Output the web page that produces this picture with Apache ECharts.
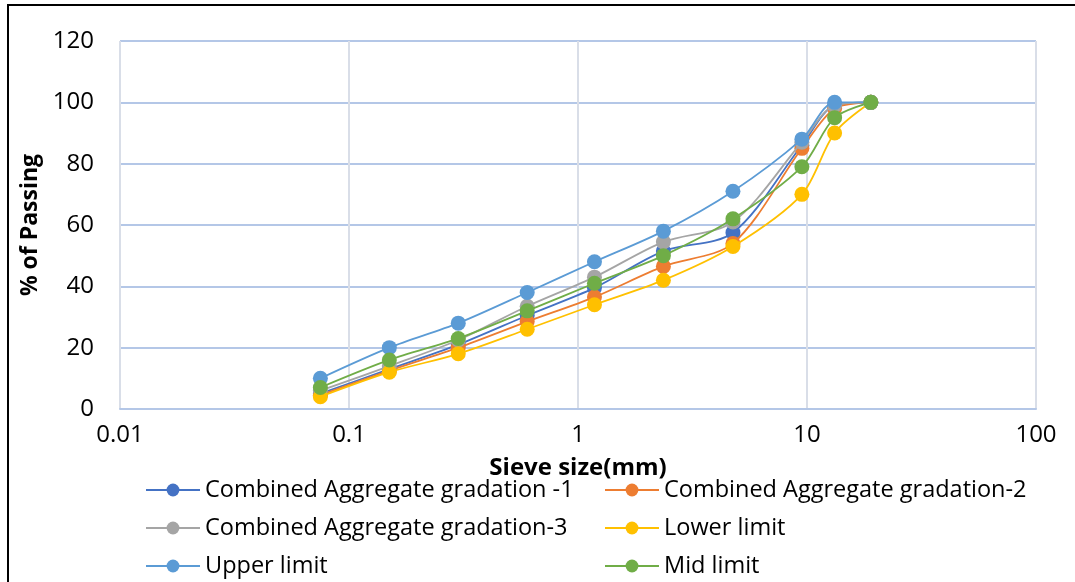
<!DOCTYPE html>
<html>
<head>
<meta charset="utf-8">
<script src="https://cdn.jsdelivr.net/npm/echarts@6/dist/echarts.min.js"></script>
<style>
  html, body { margin: 0; padding: 0; background: #fff; }
  #chart { width: 1075px; height: 582px; }
  #frame { position: absolute; left: 7px; top: 4px; width: 1100px; height: 700px; border: 2px solid #000; pointer-events: none; }
</style>
</head>
<body>
<div id="chart"></div>
<div id="frame"></div>
<script>
const sieveSizes = [0.075, 0.15, 0.3, 0.6, 1.18, 2.36, 4.75, 9.5, 13.2, 19];
const gradation1 = [5, 13, 21, 30.5, 39.5, 51.5, 57.5, 86, 99, 100];
const gradation2 = [4.5, 12.5, 20, 28.5, 36.5, 46.5, 54, 85, 98, 100];
const gradation3 = [6, 14, 22.5, 33.5, 43, 54.5, 61, 87, 99, 100];
const lowerLimit = [4, 12, 18, 26, 34, 42, 53, 70, 90, 100];
const upperLimit = [10, 20, 28, 38, 48, 58, 71, 88, 100, 100];
const midLimit = [7, 16, 23, 32, 41, 50, 62, 79, 95, 100];
const seriesNames = ['Combined Aggregate gradation -1', 'Combined Aggregate gradation-2', 'Combined Aggregate gradation-3', 'Lower limit', 'Upper limit', 'Mid limit'];
const seriesValues = [gradation1, gradation2, gradation3, lowerLimit, upperLimit, midLimit];
const seriesColors = ['#4472C4', '#ED7D31', '#A5A5A5', '#FFC000', '#5B9BD5', '#70AD47'];
const yTicks = [0, 20, 40, 60, 80, 100, 120];

const FONT = "'Open Sans', 'Liberation Sans', sans-serif";
const chart = echarts.init(document.getElementById('chart'), null, { renderer: 'canvas' });

const series = seriesNames.map((name, i) => ({
  name: name,
  type: 'line',
  smooth: 0.3,
  symbol: 'circle',
  symbolSize: 15,
  lineStyle: { width: 1.8, color: seriesColors[i] },
  itemStyle: { color: seriesColors[i] },
  z: 2 + i,
  data: sieveSizes.map((s, j) => [s, seriesValues[i][j]])
}));

const legendText = { fontSize: 23.5, color: '#000', fontFamily: FONT };
chart.setOption({
  animation: false,
  backgroundColor: '#fff',
  grid: { left: 120, right: 39, top: 41, bottom: 173 },
  xAxis: {
    type: 'log', logBase: 10, min: 0.01, max: 100,
    name: 'Sieve size(mm)', nameLocation: 'middle', nameGap: 47,
    nameTextStyle: { fontSize: 24, fontWeight: 'bold', color: '#000', fontFamily: FONT },
    axisLine: { show: true, lineStyle: { color: '#B4C7E7', width: 2 } },
    axisTick: { show: false },
    axisLabel: { fontSize: 24, color: '#000', fontFamily: FONT, margin: 14,
      formatter: v => String(Number(v.toPrecision(6))) },
    splitLine: { show: true, lineStyle: { color: '#D9DEE8', width: 2 } },
    minorTick: { show: false }
  },
  yAxis: {
    type: 'value', min: yTicks[0], max: yTicks[yTicks.length - 1], interval: 20,
    name: '% of Passing', nameLocation: 'middle', nameGap: 74, nameRotate: 90,
    nameTextStyle: { fontSize: 23, fontWeight: 'bold', color: '#000', fontFamily: FONT },
    axisLine: { show: false },
    axisTick: { show: false },
    axisLabel: { fontSize: 24, color: '#000', fontFamily: FONT, margin: 26 },
    splitLine: { show: true, lineStyle: { color: '#B4C7E7', width: 2 } }
  },
  legend: [
    { orient: 'vertical', left: 145, top: 478, padding: 0, height: 104, itemGap: 14, itemWidth: 54, itemHeight: 16,
      textStyle: legendText, data: [seriesNames[0], seriesNames[2], seriesNames[4]] },
    { orient: 'vertical', left: 604, top: 478, padding: 0, height: 104, itemGap: 14, itemWidth: 54, itemHeight: 16,
      textStyle: legendText, data: [seriesNames[1], seriesNames[3], seriesNames[5]] }
  ],
  series: series
});
</script>
</body>
</html>
